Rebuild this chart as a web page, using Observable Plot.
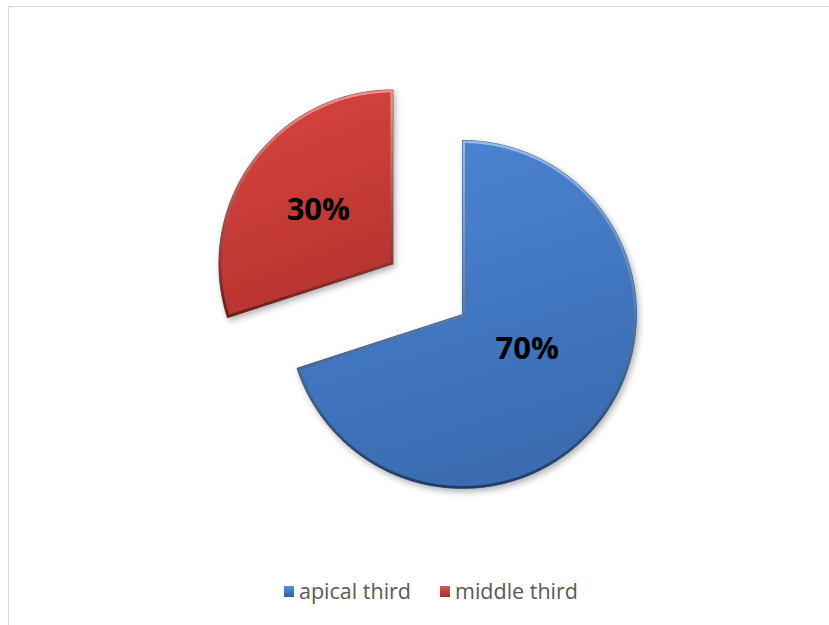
<!DOCTYPE html>
<html>
<head>
<meta charset="utf-8">
<script src="https://cdn.jsdelivr.net/npm/d3@7"></script>
<script src="https://cdn.jsdelivr.net/npm/@observablehq/plot@0.6"></script>
<style>
  html, body { margin: 0; padding: 0; background: #fff; }
  #frame { position: absolute; left: 8px; top: 6px; width: 830px; height: 630px; border: 1px solid #d9d9d9; box-sizing: border-box; }
  #chart { position: absolute; left: 0; top: 0; }
  #legend { position: absolute; left: 284px; top: 577px; display: flex; font-family: "Open Sans", sans-serif; font-size: 21.5px; color: #595959; line-height: 28px; }
  .item { display: flex; align-items: center; margin-right: 29px; }
  .sw { width: 10px; height: 11px; margin-right: 5px; margin-top: 1px; }
</style>
</head>
<body>
<div id="frame"></div>
<div id="chart"></div>
<div id="legend"></div>
<script>
const categories = ["apical third", "middle third"];
const values = [70, 30];
const labels = ["70%", "30%"];
const exploded = [false, true];

const W = 829, H = 570;
const cx = 462, cy = 314, R = 174, explode = 86;
const fills = ["url(#gBlue)", "url(#gRed)"];
const swatch = ["linear-gradient(#5a90d8,#2f5f9f)", "linear-gradient(#de5752,#a32d2a)"];

const arcs = d3.pie().sort(null).startAngle(0).endAngle(2 * Math.PI)(values);

const slices = arcs.map((a, i) => {
  const mid = (a.startAngle + a.endAngle) / 2;
  const off = exploded[i] ? explode : 0;
  const ox = cx + off * Math.sin(mid), oy = cy - off * Math.cos(mid);
  const pts = [{x: ox, y: oy}];
  const n = Math.max(4, Math.ceil((a.endAngle - a.startAngle) / 0.01));
  for (let k = 0; k <= n; k++) {
    const t = a.startAngle + (a.endAngle - a.startAngle) * k / n;
    pts.push({x: ox + R * Math.sin(t), y: oy - R * Math.cos(t)});
  }
  pts.push({x: ox, y: oy});
  const f = exploded[i] ? 0.53 : 0.46;
  const lx = ox + R * f * Math.sin(mid);
  const ly = oy - R * f * Math.cos(mid) - (exploded[i] ? 0 : 12);
  return {pts, label: {x: lx, y: ly, text: labels[i]}, cat: categories[i]};
});

const marks = [];
slices.forEach((s, i) => {
  marks.push(Plot.line(s.pts, {x: "x", y: "y", fill: fills[i], stroke: i === 0 ? "#3464a3" : "#a9302c", strokeWidth: 1, strokeLinejoin: "round", curve: "linear"}));
});
slices.forEach((s, i) => {
  marks.push(Plot.line(s.pts, {x: "x", y: "y", fill: "none", stroke: "url(#gBevel)", strokeWidth: 5, strokeOpacity: 0.45, strokeLinejoin: "round"}));
});
marks.push(Plot.text(slices.map(s => s.label), {x: "x", y: "y", text: "text", fontSize: 31, fontWeight: "bold", fill: "#000", fontFamily: "Open Sans", textAnchor: "middle"}));

const chart = Plot.plot({
  width: W, height: H, margin: 0,
  x: {domain: [0, W], range: [0, W], axis: null},
  y: {domain: [0, H], range: [0, H], axis: null},
  style: {background: "transparent", overflow: "visible"},
  marks
});

const svg = d3.select(chart);
const defs = svg.insert("defs", ":first-child");
const g1 = defs.append("linearGradient").attr("id", "gBlue").attr("x1", 0).attr("y1", 0).attr("x2", 0.3).attr("y2", 1);
g1.append("stop").attr("offset", "0%").attr("stop-color", "#4d86d6");
g1.append("stop").attr("offset", "100%").attr("stop-color", "#3a6cb2");
const g2 = defs.append("linearGradient").attr("id", "gRed").attr("x1", 0).attr("y1", 0).attr("x2", 0.3).attr("y2", 1);
g2.append("stop").attr("offset", "0%").attr("stop-color", "#da4541");
g2.append("stop").attr("offset", "100%").attr("stop-color", "#b8332f");
const g3 = defs.append("linearGradient").attr("id", "gBevel").attr("x1", 0).attr("y1", 0).attr("x2", 0).attr("y2", 1);
g3.append("stop").attr("offset", "0%").attr("stop-color", "#ffffff");
g3.append("stop").attr("offset", "100%").attr("stop-color", "#000000");
const clip = defs.selectAll("clipPath").data(slices).join("clipPath").attr("id", (d, i) => "clip" + i);
clip.append("path").attr("d", d => "M" + d.pts.map(p => p.x + "," + p.y).join("L") + "Z");
const flt = defs.append("filter").attr("id", "shadow").attr("x", "-20%").attr("y", "-20%").attr("width", "140%").attr("height", "140%");
flt.append("feDropShadow").attr("dx", 2).attr("dy", 3).attr("stdDeviation", 3).attr("flood-color", "#000").attr("flood-opacity", 0.3);

const groups = svg.selectAll("g[aria-label='line']").nodes();
groups.slice(0, 2).forEach(g => g.setAttribute("filter", "url(#shadow)"));
groups.slice(2, 4).forEach((g, i) => g.setAttribute("clip-path", "url(#clip" + i + ")"));

document.getElementById("chart").appendChild(chart);

const legend = d3.select("#legend");
categories.forEach((c, i) => {
  const it = legend.append("div").attr("class", "item");
  it.append("div").attr("class", "sw").style("background", swatch[i]);
  it.append("span").text(c);
});
</script>
</body>
</html>
